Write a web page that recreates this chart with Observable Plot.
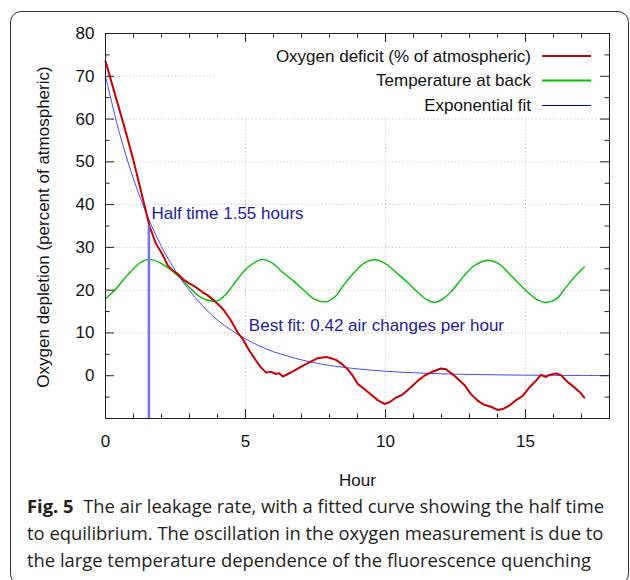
<!DOCTYPE html>
<html>
<head>
<meta charset="utf-8">
<script src="https://cdn.jsdelivr.net/npm/d3@7"></script>
<script src="https://cdn.jsdelivr.net/npm/@observablehq/plot@0.6"></script>
<style>
  html, body { margin: 0; padding: 0; background: #fff; overflow: hidden; width: 630px; height: 580px; }
  #wrap { position: relative; width: 630px; height: 580px; overflow: hidden; }
  #frame { position: absolute; left: 10px; top: 11px; width: 617px; height: 572px;
           border: 1.2px solid #333; border-radius: 11px; box-sizing: content-box; }
  #chart { position: absolute; left: 0; top: 0; }
  #legend { position: absolute; left: 0; top: 0; }
  #caption { position: absolute; left: 27px; top: 493px; font-family: "Open Sans", "Noto Sans", sans-serif;
             font-size: 18px; line-height: 27px; color: #231f20; white-space: nowrap; transform-origin: 0 0; }
  #caption .line { display: block; }
  #caption .inner { display: inline-block; }
  #caption b { font-weight: 700; }
</style>
</head>
<body>
<div id="wrap">
  <div id="frame"></div>
  <div id="chart"></div>
  <div id="legend"></div>
  <div id="caption"></div>
</div>
<script>
// ---------- data ----------
const deficitHour = [0, 0.33, 0.66, 1.0, 1.33, 1.57, 1.8, 2.04, 2.22, 2.4, 2.58, 2.76, 2.99, 3.23, 3.47, 3.63, 3.89, 4.13, 4.24, 4.48, 4.72, 4.9, 5.14, 5.38, 5.55, 5.73, 5.91, 6.09, 6.2, 6.33, 6.51, 6.74, 7.04, 7.28, 7.58, 7.88, 8.05, 8.23, 8.41, 8.65, 8.83, 9.01, 9.24, 9.48, 9.72, 9.96, 10.14, 10.38, 10.61, 10.91, 11.15, 11.39, 11.63, 11.98, 12.16, 12.34, 12.46, 12.81, 13.05, 13.29, 13.53, 13.77, 14.0, 14.19, 14.42, 14.66, 14.9, 15.14, 15.37, 15.55, 15.73, 15.85, 16.09, 16.27, 16.51, 16.74, 16.98, 17.1];
const deficitValue = [73.5, 66, 58.5, 50.3, 41.5, 35, 30.9, 28.3, 25.8, 24.6, 23.8, 22.6, 21.6, 20.7, 19.5, 18.9, 17.5, 16.0, 15.2, 12.9, 10.1, 8.6, 5.85, 3.5, 1.95, 0.78, 0.9, 0.4, 0.6, -0.2, 0.4, 1.2, 2.3, 3.1, 4.1, 4.4, 4.1, 3.7, 2.9, 1.5, 0, -1.9, -3.1, -4.4, -5.7, -6.6, -6.2, -5.1, -4.4, -2.7, -1.2, 0, 0.8, 1.7, 1.5, 0.6, 0, -2.1, -4.3, -5.8, -6.8, -7.25, -8.0, -7.8, -7.0, -5.7, -4.7, -2.7, -1.2, 0.2, -0.3, 0.2, 0.55, 0.1, -1.5, -2.7, -4.1, -5.1];

const tempHour = [0, 0.32, 0.61, 0.91, 1.21, 1.56, 1.92, 2.28, 2.64, 2.99, 3.41, 3.83, 4.06, 4.36, 4.72, 5.08, 5.61, 6.03, 6.27, 6.74, 7.1, 7.46, 7.88, 8.23, 8.53, 8.89, 9.24, 9.6, 10.02, 10.44, 10.79, 11.15, 11.51, 11.8, 12.1, 12.34, 12.81, 13.17, 13.65, 14.06, 14.54, 15.02, 15.44, 15.73, 16.09, 16.45, 16.74, 17.1];
const tempValue = [18, 19.9, 22.2, 24.4, 26.3, 27.2, 26.5, 25.0, 23.0, 20.7, 18.3, 17.4, 17.7, 19.5, 22.6, 25.3, 27.2, 26.0, 24.5, 22.0, 19.9, 17.9, 17.3, 18.7, 21.4, 24.2, 26.3, 27.1, 26.1, 23.8, 21.8, 19.5, 17.6, 17.2, 18.2, 19.6, 23.4, 25.7, 27.0, 26.1, 23.0, 19.9, 17.7, 17.1, 17.9, 20.7, 23.0, 25.4];

const fitHour = [0, 0.5, 1, 1.5, 2, 2.5, 3, 3.5, 4, 4.5, 5, 5.5, 6, 6.5, 7, 7.5, 8, 9, 10, 11, 12, 13, 14, 15, 16, 17, 18];
const fitValue = [70, 56.7, 46.0, 37.3, 30.2, 24.5, 19.9, 16.1, 13.0, 10.6, 8.6, 6.95, 5.6, 4.6, 3.7, 3.0, 2.4, 1.6, 1.05, 0.69, 0.45, 0.30, 0.20, 0.13, 0.08, 0.06, 0.04];

const seriesNames = ["Oxygen deficit (% of atmospheric)", "Temperature at back", "Exponential fit"];
const seriesColors = ["#c80000", "#00c000", "#0000c0"];

const halfTime = 1.55, halfTimeLevel = 35;
const noteText = ["Half time 1.55 hours", "Best fit: 0.42 air changes per hour"];
const noteX = [1.64, 5.12];
const noteY = [37.8, 11.7];

const xDomain = [0, 18], yDomain = [-10, 80];
const xTickLabels = [0, 5, 10, 15];
const yTickLabels = [0, 10, 20, 30, 40, 50, 60, 70, 80];
const xMinor = [1, 2, 3, 4, 6, 7, 8, 9, 11, 12, 13, 14, 16, 17];
const yMajor = [0, 10, 20, 30, 40, 50, 60, 70];
const yMinor = [-5, 5, 15, 25, 35, 45, 55, 65, 75];
const gridYFull = [10, 20, 30, 40, 50, 60];
const gridX = [5, 10, 15];

const xLabel = "Hour";
const yLabel = "Oxygen depletion (percent of atmospheric)";
const captionBold = "Fig. 5";
const captionLines = [
  "The air leakage rate, with a fitted curve showing the half time",
  "to equilibrium. The oscillation in the oxygen measurement is due to",
  "the large temperature dependence of the fluorescence quenching"
];

// ---------- chart ----------
const W = 630, H = 490, mL = 105, mR = 21, mT = 33, mB = 72;
const ih = H - mT - mB, iw = W - mL - mR;
const deficit = deficitHour.map((h, i) => ({h, v: deficitValue[i]}));
const temp = tempHour.map((h, i) => ({h, v: tempValue[i]}));
const fit = fitHour.map((h, i) => ({h, v: fitValue[i]}));
const notes = noteText.map((t, i) => ({t, x: noteX[i], y: noteY[i]}));
const font = "'Liberation Sans', Arial, Helvetica, sans-serif";
const axisColor = "#222";
const gridStyle = {stroke: "#bdbdbd", strokeDasharray: "1,2.5", strokeWidth: 1};

const chart = Plot.plot({
  width: W, height: H, marginLeft: mL, marginRight: mR, marginTop: mT, marginBottom: mB,
  x: {domain: xDomain, label: null},
  y: {domain: yDomain, label: null},
  style: {fontFamily: font, fontSize: "17px", color: "#111", background: "transparent", overflow: "visible"},
  marks: [
    Plot.ruleY(gridYFull, gridStyle),
    Plot.ruleY([70], {...gridStyle, x1: 0, x2: 3.93}),
    Plot.ruleX(gridX, {...gridStyle, y1: yDomain[0], y2: 60}),
    Plot.line(temp, {x: "h", y: "v", stroke: "#00c000", strokeWidth: 1.4, curve: "catmull-rom"}),
    Plot.line(fit, {x: "h", y: "v", stroke: "#4848ff", strokeWidth: 1, curve: "catmull-rom"}),
    Plot.line(deficit, {x: "h", y: "v", stroke: "#c80000", strokeWidth: 2, strokeLinejoin: "round"}),
    Plot.ruleX([halfTime], {y1: yDomain[0], y2: halfTimeLevel, stroke: "#7272ee", strokeWidth: 2.5}),
    Plot.text(notes, {x: "x", y: "y", text: "t", textAnchor: "start", fill: "#1c1ca6", fontSize: 17}),
    // ticks (inward, on all four sides)
    Plot.tickX(xTickLabels, {x: d => d, insetTop: ih - 9, stroke: axisColor}),
    Plot.tickX(xTickLabels, {x: d => d, insetBottom: ih - 9, stroke: axisColor}),
    Plot.tickX(xMinor, {x: d => d, insetTop: ih - 4.5, stroke: axisColor}),
    Plot.tickX(xMinor, {x: d => d, insetBottom: ih - 4.5, stroke: axisColor}),
    Plot.tickY(yMajor, {y: d => d, insetRight: iw - 9, stroke: axisColor}),
    Plot.tickY(yMajor, {y: d => d, insetLeft: iw - 9, stroke: axisColor}),
    Plot.tickY(yMinor, {y: d => d, insetRight: iw - 4.5, stroke: axisColor}),
    Plot.tickY(yMinor, {y: d => d, insetLeft: iw - 4.5, stroke: axisColor}),
    Plot.axisX(xTickLabels, {tickSize: 0, tickPadding: 16, fontSize: 17, label: null}),
    Plot.axisY(yTickLabels, {tickSize: 0, tickPadding: 11, fontSize: 17, label: null}),
    Plot.frame({stroke: axisColor, strokeWidth: 1}),
    Plot.text([xLabel], {frameAnchor: "bottom", lineAnchor: "middle", dy: 62, fontSize: 17}),
    Plot.text([yLabel], {frameAnchor: "left", textAnchor: "middle", lineAnchor: "middle", dx: -62, dy: 1, rotate: -90, fontSize: 17})
  ]
});
document.getElementById("chart").appendChild(chart);

// ---------- legend (key box, top right inside the frame) ----------
const legendTextRight = 531, lineX1 = 542, lineX2 = 591, rowY = [56, 80.5, 105.5], lineW = [2.2, 2.2, 1.2];
const lsvg = d3.select("#legend").append("svg").attr("width", W).attr("height", 130)
  .style("font-family", font).style("font-size", "17px");
seriesNames.forEach((name, i) => {
  lsvg.append("text").attr("x", legendTextRight).attr("y", rowY[i]).attr("text-anchor", "end")
    .attr("dy", "0.35em").attr("fill", "#111").text(name);
  lsvg.append("line").attr("x1", lineX1).attr("x2", lineX2).attr("y1", rowY[i]).attr("y2", rowY[i])
    .attr("stroke", seriesColors[i]).attr("stroke-width", lineW[i]);
});

// ---------- caption ----------
const cap = d3.select("#caption");
const inners = [];
captionLines.forEach((rest, i) => {
  const inner = cap.append("div").attr("class", "line").append("span").attr("class", "inner");
  if (i === 0) { inner.append("b").text(captionBold); inner.append("span").html("&nbsp;&nbsp;"); }
  inner.append("span").text(rest);
  inners.push(inner.node());
});
const w0 = inners[0].getBoundingClientRect().width;
cap.style("transform", `scaleX(${577 / w0})`);
</script>
</body>
</html>
